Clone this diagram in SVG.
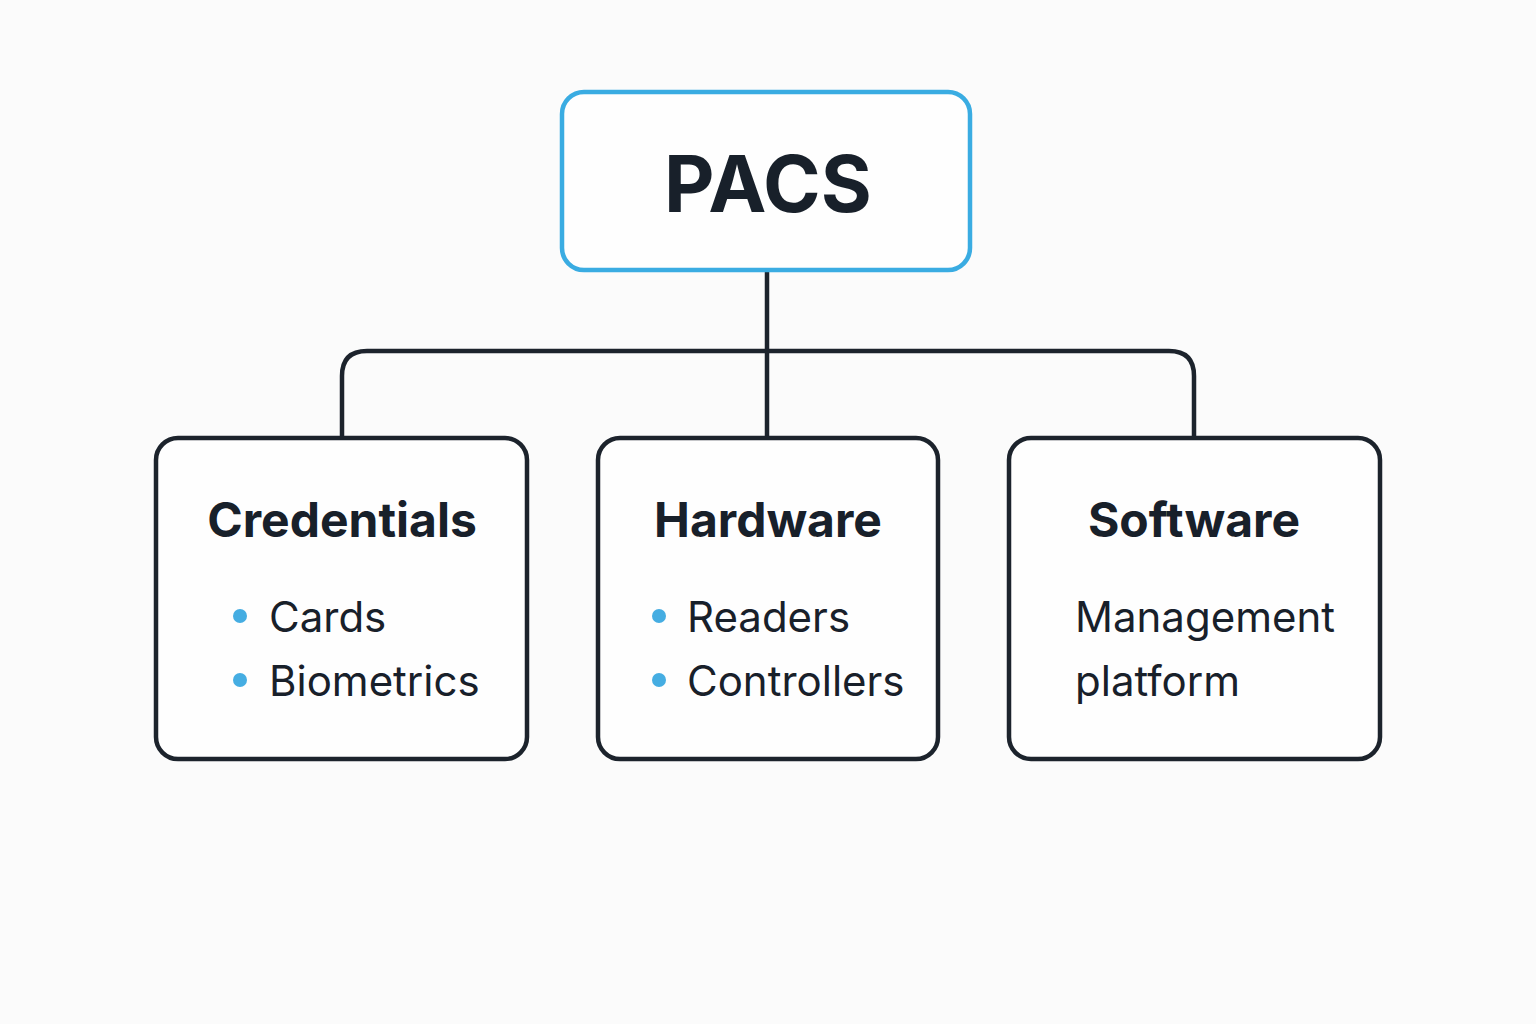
<svg xmlns="http://www.w3.org/2000/svg" width="1536" height="1024" viewBox="0 0 1536 1024">
<style>
.bg{fill:#fbfbfb}
.box{fill:#fefefe;stroke:#1c232c;stroke-width:4.5}
.root{fill:#fefefe;stroke:#3aace2;stroke-width:4.5}
.conn{fill:none;stroke:#1c232c;stroke-width:4.5}
.t{font-family:Inter,"Liberation Sans",sans-serif;fill:#18202a}
.title{font-size:48px;font-weight:700;text-anchor:middle}
.item{font-size:42px;font-weight:400}
.dot{fill:#45ade2}
</style>
<rect class="bg" width="1536" height="1024"/>
<g id="connectors">
<path class="conn" d="M767 270 V437"/>
<path class="conn" d="M342 437 V376 Q342 351 367 351 H1169 Q1194 351 1194 376 V437"/>
</g>
<g id="pacs">
<rect class="root" x="562" y="92" width="408" height="178" rx="22"/>
<text class="t" x="768" y="212" font-size="78" font-weight="700" text-anchor="middle">PACS</text>
</g>
<g id="credentials">
<rect class="box" x="156" y="438" width="371" height="321" rx="22"/>
<text class="t title" x="342" y="537">Credentials</text>
<circle class="dot" cx="240" cy="616" r="7"/>
<text class="t item" x="269" y="632">Cards</text>
<circle class="dot" cx="240" cy="680" r="7"/>
<text class="t item" x="269" y="696">Biometrics</text>
</g>
<g id="hardware">
<rect class="box" x="598" y="438" width="340" height="321" rx="22"/>
<text class="t title" x="768" y="537">Hardware</text>
<circle class="dot" cx="659" cy="616" r="7"/>
<text class="t item" x="687" y="632">Readers</text>
<circle class="dot" cx="659" cy="680" r="7"/>
<text class="t item" x="687" y="696">Controllers</text>
</g>
<g id="software">
<rect class="box" x="1009" y="438" width="371" height="321" rx="22"/>
<text class="t title" x="1194" y="537">Software</text>
<text class="t item" x="1075" y="632">Management</text>
<text class="t item" x="1075" y="696">platform</text>
</g>
</svg>
